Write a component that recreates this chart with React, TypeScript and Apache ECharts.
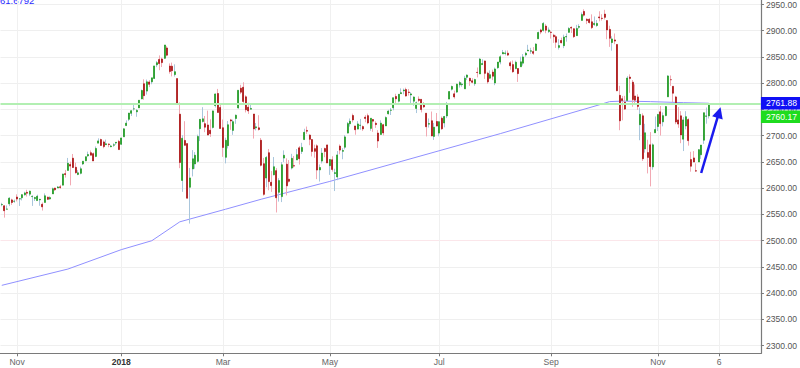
import React, { useEffect, useRef } from 'react';
import * as echarts from 'echarts';

// ---------- categories (trading days) ----------
const holidays = [
  '2017-11-23', '2017-12-25', '2018-01-01', '2018-01-15', '2018-02-19', '2018-03-30',
  '2018-05-28', '2018-07-04', '2018-09-03', '2018-11-22', '2018-12-25',
];
const categoryCount = 299;

// ---------- tick labels ----------
const tickLabels: Record<string, string> = {
  '2017-11-01': 'Nov', '2018-01-02': '2018', '2018-03-01': 'Mar', '2018-05-01': 'May',
  '2018-07-02': 'Jul', '2018-09-04': 'Sep', '2018-11-01': 'Nov', '2018-12-06': '6',
};

// ---------- OHLC rows: [open, high, low, close] ----------
const oct2017 = [
  [2568.7, 2572.2, 2565.6, 2569.1], [2566.5, 2567.4, 2544.0, 2557.2], [2560.1, 2567.1, 2559.5, 2560.4],
  [2570.3, 2583.0, 2565.9, 2581.1], [2577.8, 2580.0, 2568.3, 2572.8], [2575.0, 2578.3, 2572.2, 2575.3],
];
const nov2017 = [
  [2583.2, 2588.4, 2574.9, 2579.4], [2579.5, 2581.1, 2566.2, 2579.9], [2581.9, 2588.4, 2576.8, 2587.8],
  [2587.5, 2593.4, 2585.7, 2591.1], [2592.1, 2597.0, 2584.1, 2590.6], [2588.7, 2595.5, 2585.0, 2594.4],
  [2584.0, 2586.5, 2566.3, 2584.6], [2580.2, 2583.8, 2575.6, 2582.3], [2576.5, 2587.7, 2576.5, 2584.8],
  [2577.8, 2579.7, 2566.6, 2578.9], [2569.4, 2572.8, 2557.5, 2564.6], [2572.9, 2590.1, 2572.9, 2585.6],
  [2582.9, 2584.0, 2577.6, 2578.9], [2579.5, 2584.6, 2578.2, 2582.1], [2589.2, 2601.2, 2589.2, 2599.0],
  [2600.3, 2600.9, 2594.9, 2597.1], [2600.4, 2604.2, 2600.4, 2602.4], [2602.7, 2606.4, 2598.9, 2601.4],
  [2605.9, 2627.7, 2605.4, 2627.0], [2627.8, 2634.9, 2620.3, 2626.1], [2633.9, 2657.7, 2633.9, 2647.6],
];
const dec2017 = [
  [2645.1, 2650.6, 2605.5, 2642.2], [2657.2, 2665.2, 2639.0, 2639.4], [2639.8, 2648.7, 2627.7, 2629.6],
  [2626.2, 2634.4, 2624.8, 2629.3], [2628.4, 2641.0, 2626.5, 2637.0], [2646.2, 2651.7, 2644.1, 2651.5],
  [2652.2, 2660.3, 2651.5, 2660.0], [2661.7, 2669.7, 2659.8, 2664.1], [2667.6, 2671.9, 2662.9, 2662.9],
  [2665.9, 2668.1, 2652.0, 2652.0], [2660.6, 2679.6, 2659.1, 2675.8], [2685.9, 2695.0, 2685.9, 2690.2],
  [2692.7, 2694.4, 2680.7, 2681.5], [2688.2, 2691.0, 2676.1, 2679.3], [2683.0, 2692.6, 2682.4, 2684.6],
  [2684.2, 2685.4, 2678.1, 2683.3], [2679.1, 2682.7, 2678.0, 2680.5], [2682.1, 2685.6, 2678.9, 2682.6],
  [2686.1, 2687.7, 2682.7, 2687.5], [2689.2, 2692.1, 2673.6, 2673.6],
];
const jan2018 = [
  [2683.7, 2695.9, 2682.4, 2695.8], [2697.9, 2714.4, 2697.8, 2713.1], [2719.3, 2729.3, 2719.1, 2724.0],
  [2731.3, 2743.5, 2727.9, 2743.2], [2742.7, 2748.5, 2737.6, 2747.7], [2751.2, 2759.1, 2747.9, 2751.3],
  [2745.6, 2750.8, 2736.1, 2748.2], [2753.0, 2767.6, 2752.8, 2767.6], [2770.2, 2787.9, 2769.6, 2786.2],
  [2799.0, 2807.5, 2768.6, 2776.4], [2785.0, 2807.0, 2778.4, 2802.6], [2802.4, 2805.8, 2792.6, 2798.0],
  [2802.6, 2810.3, 2798.1, 2810.3], [2809.2, 2833.0, 2808.1, 2833.0], [2835.1, 2842.2, 2830.6, 2839.1],
  [2845.4, 2853.0, 2824.8, 2837.5], [2846.2, 2848.6, 2830.9, 2839.3], [2847.5, 2872.9, 2846.2, 2872.9],
  [2867.2, 2870.6, 2851.5, 2853.5], [2832.7, 2837.8, 2818.3, 2822.4], [2832.4, 2839.3, 2813.0, 2823.8],
];
const feb2018 = [
  [2816.5, 2836.0, 2812.7, 2822.0], [2808.9, 2808.9, 2760.0, 2762.1], [2741.1, 2763.4, 2638.2, 2648.9],
  [2614.8, 2701.0, 2593.1, 2695.1], [2691.0, 2727.7, 2681.3, 2681.7], [2685.0, 2685.3, 2580.6, 2581.0],
  [2601.8, 2638.7, 2532.7, 2619.6], [2636.8, 2672.6, 2622.5, 2656.0], [2646.3, 2668.8, 2637.1, 2662.9],
  [2651.2, 2702.1, 2648.9, 2698.6], [2713.5, 2731.5, 2689.8, 2731.2], [2727.1, 2754.4, 2725.1, 2732.2],
  [2723.0, 2737.6, 2706.8, 2716.3], [2720.5, 2747.8, 2701.3, 2701.3], [2710.4, 2731.3, 2697.8, 2704.0],
  [2715.8, 2747.8, 2713.7, 2747.3], [2757.4, 2780.6, 2753.8, 2779.6], [2780.5, 2789.2, 2744.2, 2744.3],
  [2753.8, 2761.5, 2713.5, 2713.8],
];
const mar2018 = [
  [2715.2, 2730.9, 2659.7, 2677.7], [2658.9, 2696.3, 2647.3, 2691.3], [2681.1, 2728.1, 2675.8, 2720.9],
  [2730.2, 2732.1, 2711.3, 2728.1], [2710.2, 2730.6, 2701.7, 2726.8], [2732.8, 2740.5, 2722.7, 2739.0],
  [2752.9, 2786.6, 2751.5, 2786.6], [2790.5, 2797.0, 2779.3, 2783.0], [2792.3, 2801.9, 2758.7, 2765.3],
  [2774.1, 2777.1, 2744.4, 2749.5], [2754.3, 2763.0, 2741.5, 2747.3], [2750.6, 2761.9, 2750.0, 2752.0],
  [2741.4, 2741.4, 2694.6, 2712.9], [2715.1, 2724.2, 2710.1, 2716.9], [2715.0, 2739.1, 2709.8, 2711.9],
  [2691.4, 2695.7, 2641.6, 2643.7], [2646.7, 2657.7, 2585.9, 2588.3], [2619.4, 2661.4, 2601.8, 2658.6],
  [2667.6, 2674.8, 2596.1, 2612.6], [2611.3, 2632.7, 2593.1, 2605.0], [2625.5, 2659.4, 2624.5, 2640.9],
];
const apr2018 = [
  [2633.5, 2638.3, 2553.8, 2581.9], [2592.2, 2619.1, 2574.5, 2614.5], [2584.0, 2649.9, 2573.6, 2644.7],
  [2657.4, 2672.1, 2649.6, 2662.8], [2645.8, 2656.9, 2586.3, 2604.5], [2617.2, 2653.6, 2610.8, 2613.2],
  [2638.4, 2665.5, 2635.8, 2656.9], [2643.0, 2661.4, 2639.3, 2642.2], [2653.8, 2674.7, 2653.8, 2664.0],
  [2676.9, 2680.3, 2645.1, 2656.3], [2670.1, 2686.5, 2665.2, 2677.8], [2692.7, 2713.3, 2692.1, 2706.4],
  [2710.1, 2717.5, 2703.6, 2708.6], [2701.2, 2702.8, 2681.9, 2693.1], [2692.6, 2693.9, 2660.6, 2670.1],
  [2675.4, 2682.9, 2658.0, 2670.3], [2680.8, 2683.6, 2617.3, 2634.6], [2634.9, 2645.3, 2612.7, 2639.4],
  [2651.7, 2676.5, 2647.2, 2666.9], [2675.5, 2677.4, 2659.0, 2669.9], [2682.5, 2682.9, 2648.0, 2648.1],
];
const may2018 = [
  [2643.0, 2655.3, 2625.4, 2654.8], [2654.2, 2660.9, 2631.7, 2635.7], [2628.1, 2637.1, 2594.6, 2629.7],
  [2621.5, 2670.9, 2615.3, 2663.4], [2680.3, 2683.4, 2664.7, 2672.6], [2670.3, 2676.3, 2655.2, 2671.9],
  [2678.1, 2701.3, 2674.1, 2697.8], [2705.0, 2726.1, 2704.5, 2723.1], [2722.7, 2732.9, 2717.4, 2727.7],
  [2738.5, 2742.1, 2725.5, 2730.1], [2718.6, 2718.6, 2701.9, 2711.5], [2712.6, 2727.8, 2712.2, 2722.5],
  [2719.7, 2732.0, 2711.4, 2720.1], [2717.4, 2719.5, 2709.2, 2713.0], [2735.4, 2739.2, 2725.7, 2733.0],
  [2738.3, 2742.2, 2721.9, 2724.4], [2714.0, 2733.3, 2709.5, 2733.3], [2730.9, 2732.0, 2707.4, 2727.8],
  [2723.6, 2727.4, 2715.0, 2721.3], [2705.1, 2710.7, 2676.8, 2689.9], [2702.4, 2729.3, 2702.4, 2724.0],
  [2721.0, 2722.5, 2700.7, 2705.3],
];
const jun2018 = [
  [2718.7, 2736.9, 2718.7, 2734.6], [2741.7, 2749.2, 2740.5, 2746.9], [2748.5, 2752.6, 2739.5, 2748.8],
  [2753.3, 2772.4, 2748.5, 2772.4], [2774.8, 2779.9, 2760.2, 2770.4], [2765.8, 2779.4, 2763.6, 2779.0],
  [2780.2, 2790.2, 2779.9, 2782.0], [2785.6, 2789.8, 2778.8, 2786.9], [2787.9, 2791.5, 2774.7, 2775.6],
  [2783.2, 2789.1, 2776.5, 2782.5], [2777.8, 2782.8, 2761.7, 2779.7], [2765.8, 2775.0, 2757.1, 2773.8],
  [2752.0, 2765.1, 2743.2, 2762.6], [2769.7, 2774.9, 2763.9, 2767.3], [2769.3, 2769.3, 2744.4, 2749.8],
  [2760.8, 2764.2, 2752.7, 2754.9], [2742.9, 2742.9, 2698.7, 2717.1], [2722.1, 2732.9, 2715.6, 2723.1],
  [2728.5, 2746.1, 2699.0, 2699.6], [2698.7, 2724.3, 2692.0, 2716.3], [2727.1, 2743.3, 2718.0, 2718.4],
];
const jul2018 = [
  [2705.0, 2727.3, 2699.0, 2726.7], [2733.3, 2736.6, 2711.2, 2713.2], [2724.2, 2737.8, 2716.0, 2736.6],
  [2737.7, 2764.4, 2733.5, 2759.8], [2769.8, 2784.7, 2769.8, 2784.2], [2788.6, 2795.6, 2786.2, 2793.8],
  [2779.8, 2785.9, 2770.8, 2774.0], [2783.1, 2799.2, 2781.5, 2798.3], [2796.9, 2804.5, 2791.7, 2801.3],
  [2797.4, 2801.2, 2793.4, 2798.4], [2789.3, 2814.2, 2789.2, 2809.6], [2811.4, 2816.8, 2805.9, 2815.6],
  [2809.4, 2810.5, 2795.1, 2804.5], [2804.6, 2809.7, 2800.0, 2801.8], [2799.2, 2808.6, 2795.1, 2807.0],
  [2820.7, 2830.0, 2811.1, 2820.4], [2817.7, 2848.0, 2817.4, 2846.1], [2835.5, 2845.6, 2835.3, 2837.4],
  [2842.4, 2843.2, 2808.3, 2818.8], [2819.0, 2821.7, 2799.1, 2802.6], [2809.7, 2824.5, 2808.1, 2816.3],
];
const aug2018 = [
  [2821.2, 2825.8, 2805.9, 2813.4], [2800.5, 2829.9, 2796.3, 2827.2], [2829.6, 2840.4, 2827.4, 2840.4],
  [2840.3, 2853.3, 2836.0, 2850.4], [2855.9, 2863.4, 2855.9, 2858.5], [2856.8, 2862.4, 2853.1, 2857.7],
  [2857.2, 2862.5, 2852.0, 2853.6], [2838.9, 2842.2, 2825.8, 2833.3], [2835.5, 2843.4, 2819.9, 2821.9],
  [2827.9, 2843.1, 2826.6, 2840.0], [2828.0, 2828.0, 2802.5, 2818.4], [2831.4, 2850.5, 2831.4, 2840.7],
  [2838.3, 2855.6, 2833.7, 2850.1], [2853.9, 2859.8, 2850.6, 2857.1], [2861.5, 2873.2, 2861.3, 2863.0],
  [2861.0, 2867.5, 2856.1, 2861.8], [2860.3, 2868.8, 2854.0, 2857.0], [2862.4, 2876.2, 2862.4, 2874.7],
  [2884.7, 2898.3, 2884.7, 2896.7], [2901.5, 2903.8, 2893.5, 2897.5], [2900.6, 2916.5, 2898.4, 2914.0],
  [2908.9, 2912.5, 2895.2, 2901.1], [2898.4, 2906.3, 2895.8, 2901.5],
];
const sep2018 = [
  [2897.0, 2900.2, 2885.1, 2896.7], [2891.6, 2894.2, 2876.9, 2888.6], [2888.6, 2892.1, 2867.3, 2878.1],
  [2868.3, 2883.8, 2864.1, 2871.7], [2881.4, 2886.9, 2875.9, 2877.1], [2871.6, 2892.5, 2866.8, 2887.9],
  [2888.3, 2894.7, 2879.2, 2888.9], [2896.9, 2906.8, 2896.4, 2904.2], [2906.4, 2908.3, 2895.8, 2905.0],
  [2903.8, 2904.7, 2886.2, 2888.8], [2890.7, 2911.2, 2890.4, 2904.3], [2906.6, 2912.4, 2903.8, 2908.0],
  [2919.7, 2934.8, 2919.7, 2930.8], [2936.8, 2940.9, 2927.1, 2929.7], [2921.8, 2923.8, 2912.6, 2919.4],
  [2921.8, 2924.0, 2913.7, 2915.6], [2917.0, 2931.2, 2903.3, 2906.0], [2911.7, 2927.2, 2909.3, 2914.0],
  [2910.0, 2920.5, 2907.5, 2914.0],
];
const oct2018 = [
  [2926.3, 2937.1, 2917.9, 2924.6], [2923.8, 2931.4, 2919.4, 2923.4], [2931.7, 2939.9, 2921.4, 2925.5],
  [2919.4, 2919.8, 2883.9, 2901.6], [2902.5, 2909.6, 2869.3, 2885.6], [2877.5, 2889.5, 2862.1, 2884.4],
  [2882.5, 2894.8, 2874.3, 2880.3], [2873.9, 2874.0, 2784.9, 2785.7], [2776.9, 2795.1, 2710.5, 2728.4],
  [2770.5, 2775.8, 2729.4, 2767.1], [2763.8, 2776.0, 2749.0, 2750.8], [2767.1, 2813.5, 2766.9, 2809.9],
  [2811.7, 2816.9, 2781.8, 2809.2], [2802.0, 2806.0, 2755.2, 2768.8], [2775.7, 2797.8, 2760.3, 2767.8],
  [2773.9, 2778.9, 2749.2, 2755.9], [2721.0, 2753.6, 2691.4, 2740.7], [2737.9, 2742.6, 2651.9, 2656.1],
  [2674.9, 2722.7, 2667.8, 2705.6], [2667.9, 2692.4, 2628.2, 2658.7], [2682.7, 2706.9, 2603.5, 2641.3],
  [2640.7, 2685.4, 2635.3, 2682.6], [2705.6, 2736.7, 2705.6, 2711.7],
];
const nov2018 = [
  [2717.6, 2741.7, 2708.9, 2740.4], [2745.5, 2756.6, 2700.4, 2723.1], [2726.4, 2744.3, 2717.9, 2738.3],
  [2738.4, 2756.8, 2737.1, 2755.5], [2774.1, 2815.2, 2774.1, 2813.9], [2806.8, 2814.8, 2795.0, 2806.8],
  [2794.1, 2794.1, 2764.2, 2781.0], [2773.9, 2776.0, 2722.0, 2726.2], [2730.1, 2754.6, 2715.0, 2722.2],
  [2737.9, 2746.8, 2685.8, 2701.6], [2693.5, 2735.4, 2670.8, 2730.2], [2718.5, 2746.7, 2712.2, 2736.3],
  [2730.7, 2733.2, 2681.1, 2690.7], [2654.6, 2669.4, 2631.5, 2641.9], [2657.7, 2670.7, 2649.8, 2649.9],
  [2633.4, 2647.6, 2631.1, 2632.6], [2650.0, 2674.4, 2650.0, 2673.5], [2663.8, 2682.5, 2655.9, 2682.2],
  [2691.5, 2744.0, 2684.4, 2743.8], [2737.0, 2753.8, 2722.9, 2737.8], [2737.8, 2760.9, 2732.8, 2760.17],
];

// ---------- moving average key points: [category index, value] ----------
const maPoints = [
  [0, 2415], [26, 2446], [47, 2483], [59, 2500], [70, 2536], [88, 2560], [102, 2579],
  [129, 2613], [157, 2651], [196, 2704], [235, 2759], [239, 2765], [244, 2766], [255, 2765],
  [268, 2763], [278, 2761.88],
];
const maLast = 2761.88;
const lastClose = 2760.17;
const topLeftText = '61.6792';

// arrow annotation (data coords)
const arrowFrom = [275, 2629];
const arrowTo = [282, 2744];

const yTicks = { min: 2300, max: 2950, step: 50 };

function buildDates(): string[] {
  const out: string[] = [];
  const d = new Date(Date.UTC(2017, 9, 24));
  while (out.length < categoryCount) {
    const dow = d.getUTCDay();
    const s = d.toISOString().slice(0, 10);
    if (dow !== 0 && dow !== 6 && holidays.indexOf(s) < 0) out.push(s);
    d.setUTCDate(d.getUTCDate() + 1);
  }
  return out;
}

const FONT = '"Liberation Sans", Arial, sans-serif';
const UP = '#1c9a1c';
const DOWN = '#a80f0f';
const UP_WICK = '#a9c6dc';
const DOWN_WICK = '#f2a9b3';
const GRID_TOP = 2;
const GRID_BOTTOM = 22.3;
const PLOT_H = 368 - GRID_TOP - GRID_BOTTOM;

export default function App() {
  const ref = useRef<HTMLDivElement>(null);
  useEffect(() => {
    if (!ref.current) return;
    const chart = echarts.init(ref.current, null, { renderer: 'svg' });
    const dates = buildDates();
    const rows = [
      ...oct2017, ...nov2017, ...dec2017, ...jan2018, ...feb2018, ...mar2018, ...apr2018,
      ...may2018, ...jun2018, ...jul2018, ...aug2018, ...sep2018, ...oct2018, ...nov2018,
    ];
    const full = rows.map((r) => [r[0], r[3], r[2], r[1]]);
    const bodies = rows.map((r) => [r[0], r[3], Math.min(r[0], r[3]), Math.max(r[0], r[3])]);
    const isTick = (_i: number, v: string) => !!tickLabels[v];
    const splitColors: string[] = [];
    for (let v = yTicks.min; v <= yTicks.max; v += yTicks.step) {
      splitColors.push(v === 2500 ? '#fbe6ea' : '#efefef');
    }
    // the close-price tag sits one tag-height below the MA tag
    const perPx = (yTicks.max - yTicks.min) / PLOT_H;
    const closeTagValue = maLast - 13.5 * perPx;

    const tagLabel = (text: string, bg: string) => ({
      show: true, position: 'end', distance: 0, formatter: text,
      backgroundColor: bg, color: '#fff', padding: [1, 5, 1, 5], lineHeight: 10.5,
      fontSize: 8.6, fontFamily: FONT,
    });

    const option: any = {
      animation: false,
      backgroundColor: '#ffffff',
      grid: [
        { left: 0.5, right: 39, top: GRID_TOP, bottom: GRID_BOTTOM },
        { left: 0.5, right: 39, top: 0, bottom: 14.7 },
      ],
      xAxis: [
        { type: 'category', gridIndex: 0, data: dates, show: false, boundaryGap: true },
        {
          type: 'category', gridIndex: 1, data: dates, boundaryGap: true,
          axisLine: { show: true, lineStyle: { color: '#7a7a7a', width: 1.2 } },
          axisTick: { show: true, interval: isTick, alignWithLabel: true, length: 3, lineStyle: { color: '#7a7a7a' } },
          axisLabel: {
            interval: isTick, margin: 4, color: '#666', fontSize: 8.6, fontFamily: FONT,
            formatter: (v: string) => (tickLabels[v] === '2018' ? '{b|2018}' : tickLabels[v] || ''),
            rich: { b: { fontWeight: 'bold', color: '#333', fontSize: 8.6, fontFamily: FONT } },
          },
          splitLine: { show: true, interval: isTick, alignWithLabel: true, lineStyle: { color: '#f0f0f0', width: 1 } },
        },
      ],
      yAxis: [
        {
          type: 'value', gridIndex: 0, position: 'right', min: yTicks.min, max: yTicks.max, interval: yTicks.step,
          axisLine: { show: false },
          axisTick: { show: true, length: 3, lineStyle: { color: '#7a7a7a' } },
          axisLabel: { margin: 5, color: '#555', fontSize: 8.6, fontFamily: FONT, formatter: (v: number) => v.toFixed(2) },
          splitLine: { show: true, lineStyle: { color: splitColors, width: 1 } },
        },
        {
          type: 'value', gridIndex: 1, position: 'right', min: 0, max: 1,
          axisLine: { show: true, lineStyle: { color: '#7a7a7a', width: 1.2 } },
          axisTick: { show: false }, axisLabel: { show: false }, splitLine: { show: false },
        },
      ],
      series: [
        {
          type: 'line', name: 'MA', xAxisIndex: 0, yAxisIndex: 0, data: maPoints, showSymbol: false,
          symbol: 'none', lineStyle: { color: '#9090ff', width: 1 }, z: 1, silent: true,
          markLine: {
            silent: true, symbol: ['none', 'none'], z: 10,
            data: [{
              yAxis: maLast, lineStyle: { color: 'rgba(0,0,0,0)', width: 0 },
              label: tagLabel(maLast.toFixed(2), '#1010f5'),
            }],
          },
        },
        {
          type: 'candlestick', name: 'wicks', xAxisIndex: 0, yAxisIndex: 0, data: full, barWidth: 1, z: 2, silent: true,
          itemStyle: { color: UP_WICK, color0: DOWN_WICK, borderColor: UP_WICK, borderColor0: DOWN_WICK, borderWidth: 1 },
        },
        {
          type: 'candlestick', name: 'bodies', xAxisIndex: 0, yAxisIndex: 0, data: bodies, barWidth: 1.5, z: 3, silent: true,
          itemStyle: { color: UP, color0: DOWN, borderColor: UP, borderColor0: DOWN, borderWidth: 0.7 },
          markLine: {
            silent: true, symbol: ['none', 'none'], z: 6,
            data: [
              { yAxis: lastClose, lineStyle: { color: '#b2efb2', width: 2, type: 'solid' }, label: { show: false } },
              {
                yAxis: closeTagValue, lineStyle: { color: 'rgba(0,0,0,0)', width: 0 },
                label: tagLabel(lastClose.toFixed(2), '#1fdc1f'),
              },
              [
                { coord: arrowFrom, symbol: 'none', lineStyle: { color: '#1a1aee', width: 2.5, type: 'solid' }, label: { show: false } },
                { coord: arrowTo, symbol: 'triangle', symbolSize: 11, itemStyle: { color: '#1a1aee' } },
              ],
            ],
          },
        },
      ],
      graphic: [
        {
          type: 'text', left: 0, top: -5,
          style: { text: topLeftText, fill: '#2a2aff', font: `9.5px ${FONT}` },
        },
      ],
    };
    chart.setOption(option);
    return () => chart.dispose();
  }, []);
  return <div ref={ref} style={{ position: 'fixed', left: 0, top: 0, width: 800, height: 368, background: '#fff' }} />;
}
